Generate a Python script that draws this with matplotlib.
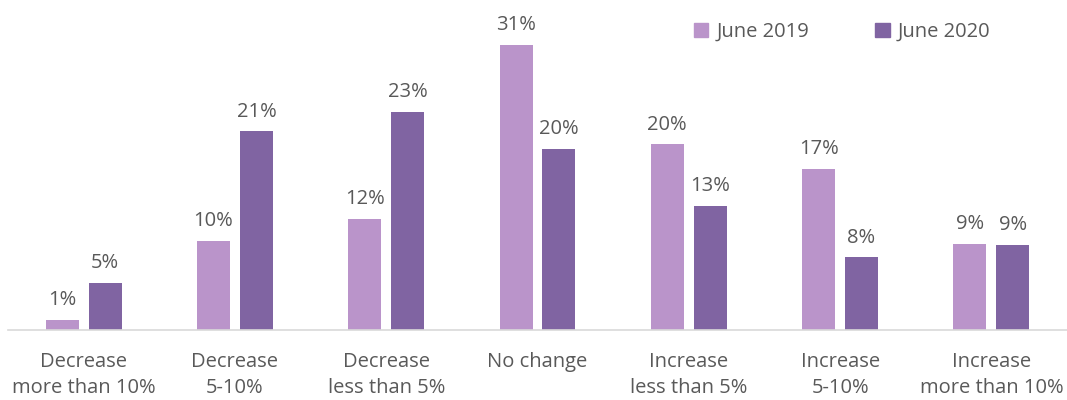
import matplotlib
matplotlib.use("Agg")
import matplotlib.pyplot as plt
import numpy as np
from matplotlib.patches import Patch

categories = ["Decrease\nmore than 10%", "Decrease\n5-10%", "Decrease\nless than 5%",
              "No change", "Increase\nless than 5%", "Increase\n5-10%", "Increase\nmore than 10%"]
june2019 = [1.1, 9.7, 12.1, 31.0, 20.2, 17.5, 9.4]
june2020 = [5.1, 21.6, 23.7, 19.7, 13.5, 7.9, 9.3]
labels2019 = ["1%", "10%", "12%", "31%", "20%", "17%", "9%"]
labels2020 = ["5%", "21%", "23%", "20%", "13%", "8%", "9%"]
series_names = ["June 2019", "June 2020"]

c19 = "#BA94CA"
c20 = "#8064A2"
txt = "#595959"

plt.rcParams['font.family'] = ['Open Sans', 'DejaVu Sans']

fig = plt.figure(figsize=(10.67, 4.0), dpi=100)
ax = fig.add_axes([8/1067, 70/400, 1 - 8/1067, 330/400])

x = np.arange(len(categories))
w = 0.218
off = 0.142
b1 = ax.bar(x - off, june2019, width=w, color=c19)
b2 = ax.bar(x + off, june2020, width=w, color=c20)

fs = 14.5
for bars, labs in ((b1, labels2019), (b2, labels2020)):
    for b, l in zip(bars, labs):
        ax.annotate(l, (b.get_x() + b.get_width()/2, b.get_height()),
                    xytext=(0, 7), textcoords="offset points", ha="center", va="bottom",
                    fontsize=fs, color=txt)

ax.set_xlim(-0.5, len(categories) - 0.5)
ax.set_ylim(0, 35.9)
ax.set_yticks([])
ax.set_xticks(x)
ax.set_xticklabels(categories, fontsize=fs, color=txt, linespacing=1.36)
ax.tick_params(axis='x', length=0, pad=16)
for s in ("top", "right", "left"):
    ax.spines[s].set_visible(False)
ax.spines["bottom"].set_color("#D9D9D9")
ax.spines["bottom"].set_linewidth(1.2)

handles = [Patch(color=c19), Patch(color=c20)]
leg = fig.legend(handles, series_names, loc="center left", bbox_to_anchor=(676/1067, 1 - 32/400),
                 ncol=2, frameon=False, fontsize=fs, handlelength=0.7, handleheight=0.7,
                 handletextpad=0.4, columnspacing=3.3, labelcolor=txt)

fig.savefig("out.png", dpi=100)
